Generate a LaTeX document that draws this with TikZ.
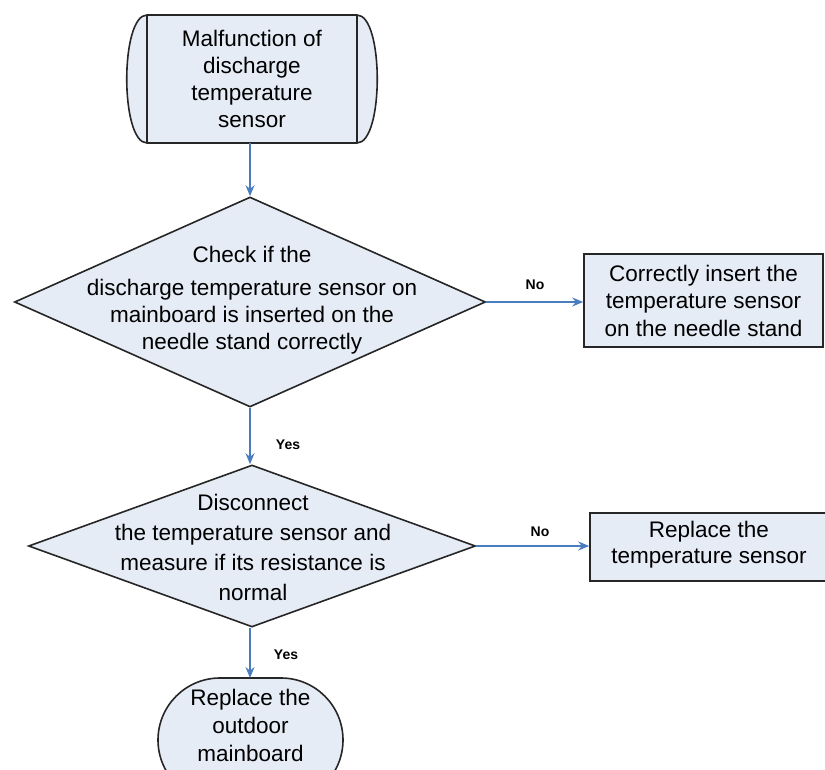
\documentclass[tikz,border=0pt]{standalone}
\usepackage{fontspec}
\setmainfont{Liberation Sans}
\usetikzlibrary{shapes.geometric,arrows.meta}
\definecolor{boxfill}{RGB}{230,236,246}
\definecolor{arrowblue}{RGB}{74,124,192}
\begin{document}
\begin{tikzpicture}[x=1pt,y=-1pt,
  outline/.style={draw=black!85,line width=1.6pt,fill=boxfill},
  txt/.style={align=center,font=\fontsize{22.5}{27}\selectfont,inner sep=0pt},
  conn/.style={draw=arrowblue,line width=1.4pt,-{Stealth[length=11pt,width=9pt]}},
  lbl/.style={font=\bfseries\fontsize{14}{16}\selectfont,inner sep=0pt},
  decision/.style={outline,shape=diamond,inner sep=0pt}
]
\useasboundingbox (0,0) rectangle (825,770);
% start terminal
\path[outline] (147,15) -- (357,15) .. controls (384,15) and (384,143) .. (357,143) -- (147,143) .. controls (120,143) and (120,15) .. (147,15) -- cycle;
\draw[black!85,line width=1.6pt] (147,15) -- (147,143) (357,15) -- (357,143);
\node[txt] (start) at (252,79) {Malfunction of\\discharge\\temperature\\sensor};
\coordinate (startb) at (250,143);
% decision 1
\node[decision,minimum width=471pt,minimum height=210pt] (d1) at (250,302) {};
\node[txt] (d1t) at (252,300) {Check if the\\[6pt]discharge temperature sensor on\\mainboard is inserted on the\\needle stand correctly};
% box 1
\node[outline,minimum width=239pt,minimum height=93pt,inner sep=0pt] (b1) at (703.5,300.5) {};
\node[txt,font=\fontsize{22.5}{27.5}\selectfont] (b1t) at (703.5,300.5) {Correctly insert the\\temperature sensor\\on the needle stand};
% decision 2
\node[decision,minimum width=447pt,minimum height=162pt] (d2) at (252,546) {};
\node[txt,font=\fontsize{22.5}{30}\selectfont] (d2t) at (253,547) {Disconnect\\the temperature sensor and\\measure if its resistance is\\normal};
% box 2
\node[outline,minimum width=238pt,minimum height=68pt,inner sep=0pt] (b2) at (709,547) {};
\node[txt,font=\fontsize{22.5}{26}\selectfont] (b2t) at (709,545) {Replace the\\temperature sensor};
% end terminal
\path[outline,rounded corners=62pt] (158,678) rectangle (343,802);
\node[txt,font=\fontsize{22.5}{28}\selectfont] (end) at (250.5,725) {Replace the\\outdoor\\mainboard};
\coordinate (endt) at (250,678);
% connectors
\draw[conn] (startb) -- (d1.north);
\draw[conn] (d1.east) -- (d1.east -| b1.west);
\draw[conn] (d1.south) -- (d2.north -| d1.south);
\draw[conn] (d2.east) -- (d2.east -| b2.west);
\draw[conn] (d2.south -| endt) -- (endt);
% labels
\node[lbl] (no1) at (535,285) {No};
\node[lbl] (yes1) at (288,445) {Yes};
\node[lbl] (no2) at (540,532) {No};
\node[lbl] (yes2) at (286,655) {Yes};
\end{tikzpicture}
\end{document}
